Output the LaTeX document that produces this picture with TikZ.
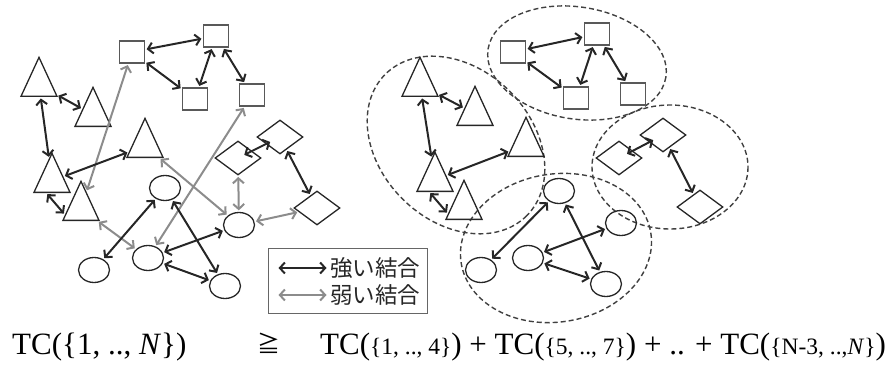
\documentclass[tikz,border=0pt]{standalone}
\usepackage{fontspec}
\setmainfont{Liberation Serif}
\newfontfamily\jpfont{Noto Sans CJK JP}
\usetikzlibrary{shapes.geometric,arrows.meta}
\newcommand\smallset[1]{{\fontsize{23.5}{26}\selectfont #1}}
\begin{document}
\begin{tikzpicture}[x=1pt,y=-1pt,
  tri/.style={isosceles triangle, isosceles triangle stretches, shape border rotate=90,
    minimum width=36pt, minimum height=39pt, inner sep=0pt, draw=black!85, line width=1.3pt, anchor=lower side},
  sq/.style={rectangle, minimum width=25pt, minimum height=22pt, inner sep=0pt, draw=black!65, line width=1.3pt},
  dia/.style={diamond, minimum width=46pt, minimum height=34pt, inner sep=0pt, draw=black!85, line width=1.3pt},
  circ/.style={ellipse, minimum width=31pt, minimum height=25pt, inner sep=0pt, draw=black!85, line width=1.3pt},
  grp/.style={draw=black!75, line width=1.4pt, dash pattern=on 5pt off 3pt},
  strong/.style={draw=black!85, line width=2pt, {Straight Barb[length=5pt,width=11pt]}-{Straight Barb[length=5pt,width=11pt]}, shorten >=1.5pt, shorten <=1.5pt},
  weak/.style={strong, draw=black!45},
]
\useasboundingbox (0,0) rectangle (892,369);

% ---------- left graph ----------
\node[tri] (t1) at (39,97) {};
\node[tri] (t2) at (93,127) {};
\node[tri] (t3) at (145,158) {};
\node[tri] (t4) at (52,193) {};
\node[tri] (t5) at (81,221) {};
\node[sq] (s1) at (132,52) {};
\node[sq] (s2) at (216,36) {};
\node[sq] (s3) at (195,99) {};
\node[sq] (s4) at (252,95) {};
\node[dia] (d1) at (238,158) {};
\node[dia] (d2) at (280,137) {};
\node[dia] (d3) at (317,208) {};
\node[circ] (c1) at (165,188) {};
\node[circ] (c2) at (148,258) {};
\node[circ] (c3) at (94,270) {};
\node[circ] (c4) at (239,225) {};
\node[circ] (c5) at (225,286) {};

\draw[weak] (s1) -- (t5);
\draw[weak] (s4) -- (c2);
\draw[weak] (t3) -- (c4);
\draw[weak] (t5) -- (c2);
\draw[weak] (d1) -- (c4);
\draw[weak] (c4) -- (d3);

\draw[strong] (t1) -- (t2);
\draw[strong] (t1) -- (t4);
\draw[strong] (t4) -- (t3);
\draw[strong] (t4.-115) -- (t5.200);
\draw[strong] (s1) -- (s2);
\draw[strong] (s1) -- (s3);
\draw[strong] (s2) -- (s3);
\draw[strong] (s2) -- (s4);
\draw[strong, shorten <=7pt, shorten >=11pt] (d1.center) -- (d2.center);
\draw[strong] (d2) -- (d3);
\draw[strong] (c1) -- (c3);
\draw[strong] (c1) -- (c5);
\draw[strong] (c2) -- (c4);
\draw[strong] (c2) -- (c5);

% ---------- legend ----------
\node[draw=black!60, line width=1.2pt, minimum width=159pt, minimum height=65pt, inner sep=0pt, anchor=north west] (legend) at (268,248) {};
\coordinate (la) at (277,268);
\coordinate (lb) at (328,268);
\coordinate (lc) at (277,295);
\coordinate (ld) at (328,295);
\draw[strong] (la) -- (lb);
\draw[weak] (lc) -- (ld);
\node[anchor=west, inner sep=0pt, font=\jpfont\fontsize{22.5}{25}\selectfont, text=black!85] (lt1) at (330,268) {強い結合};
\node[anchor=west, inner sep=0pt, font=\jpfont\fontsize{22.5}{25}\selectfont, text=black!85] (lt2) at (330,295) {弱い結合};

% ---------- right graph ----------
\draw[grp, rotate around={-45:(456,145)}] (456,145) ellipse [x radius=100, y radius=76];
\draw[grp, rotate around={-9:(577,63)}] (577,63) ellipse [x radius=90, y radius=56];
\draw[grp] (670,167) ellipse [x radius=78, y radius=62];
\draw[grp, rotate around={9:(556,248)}] (556,248) ellipse [x radius=96, y radius=74];

\node[tri] (rt1) at (420,97) {};
\node[tri] (rt2) at (475,126) {};
\node[tri] (rt3) at (526,157) {};
\node[tri] (rt4) at (435,192) {};
\node[tri] (rt5) at (464,220) {};
\node[sq] (rs1) at (513,52) {};
\node[sq] (rs2) at (597,34) {};
\node[sq] (rs3) at (576,98) {};
\node[sq] (rs4) at (633,94) {};
\node[dia] (rd1) at (619,158) {};
\node[dia] (rd2) at (663,135) {};
\node[dia] (rd3) at (700,207) {};
\node[circ] (rc1) at (559,191) {};
\node[circ] (rc2) at (528,258) {};
\node[circ] (rc3) at (481,270) {};
\node[circ] (rc4) at (621,223) {};
\node[circ] (rc5) at (606,284) {};

\draw[strong] (rt1) -- (rt2);
\draw[strong] (rt1) -- (rt4);
\draw[strong] (rt4) -- (rt3);
\draw[strong] (rt4.-115) -- (rt5.200);
\draw[strong] (rs1) -- (rs2);
\draw[strong] (rs1) -- (rs3);
\draw[strong] (rs2) -- (rs3);
\draw[strong] (rs2) -- (rs4);
\draw[strong, shorten <=9pt, shorten >=11pt] (rd1.center) -- (rd2.center);
\draw[strong] (rd2) -- (rd3);
\draw[strong] (rc1) -- (rc3);
\draw[strong] (rc1) -- (rc5);
\draw[strong] (rc2) -- (rc4);
\draw[strong] (rc2) -- (rc5);

% ---------- formula ----------
\node[anchor=base west, inner sep=0pt, font=\fontsize{31}{35}\selectfont] (lhs) at (12,354) {TC(\{1, .., \textit{N}\})};
\node[anchor=base west, inner sep=0pt, font=\jpfont\fontsize{23}{27}\selectfont] (geq) at (257,352) {≧};
\node[anchor=base west, inner sep=0pt, font=\fontsize{31}{35}\selectfont] (rhs) at (320,354) {TC(\smallset{\{1, .., 4\}}) + TC(\smallset{\{5, .., 7\}}) + .. + TC(\smallset{\{N-3, ..,\textit{N}\}})};
\end{tikzpicture}
\end{document}
